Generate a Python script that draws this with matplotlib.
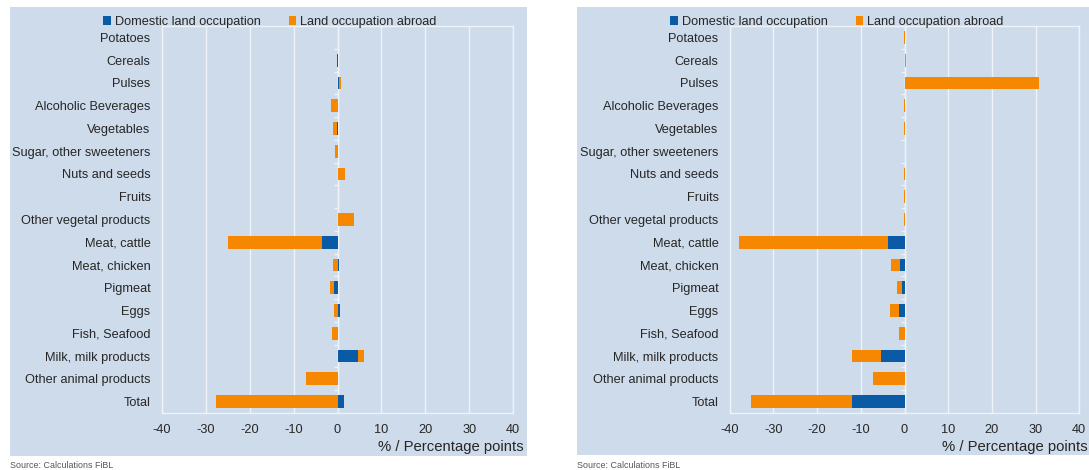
import numpy as np
import matplotlib
matplotlib.use("Agg")
import matplotlib.pyplot as plt
from matplotlib.patches import Rectangle, Patch
from matplotlib.markers import TICKLEFT

plt.rcParams['font.family'] = ['Liberation Sans', 'DejaVu Sans']

categories = ["Potatoes", "Cereals", "Pulses", "Alcoholic Beverages", "Vegetables",
              "Sugar, other sweeteners", "Nuts and seeds", "Fruits", "Other vegetal products",
              "Meat, cattle", "Meat, chicken", "Pigmeat", "Eggs", "Fish, Seafood",
              "Milk, milk products", "Other animal products", "Total"]

left_domestic = [0.0, -0.1, 0.35, 0.2, -0.1, 0.0, 0.1, 0.0, 0.1,
                 -3.5, 0.3, -0.7, 0.5, 0.0, 4.6, 0.0, 1.5]
left_abroad = [0.1, 0.1, 0.5, -1.5, -1.0, -0.6, 1.6, 0.2, 3.7,
               -21.4, -1.0, -1.0, -0.7, -1.2, 1.5, -7.1, -27.6]

right_domestic = [0.0, 0.0, 0.0, 0.0, 0.0, 0.0, 0.0, 0.0, 0.0,
                  -3.7, -1.0, -0.5, -1.2, 0.0, -5.3, 0.0, -12.0]
right_abroad = [-0.1, 0.4, 30.7, -0.1, -0.1, 0.0, -0.1, -0.1, -0.1,
                -34.1, -2.0, -1.3, -2.1, -1.2, -6.7, -7.2, -23.2]

xticks = [-40, -30, -20, -10, 0, 10, 20, 30, 40]
legend_labels = ["Domestic land occupation", "Land occupation abroad"]
xlabel = "% / Percentage points"
source = "Source: Calculations FiBL"

BLUE = "#0a5aa6"
ORANGE = "#f58800"
BG = "#cedbeb"
TXT = "#262626"
GRID = "#eef3f9"

W, H = 1089, 470
fig = plt.figure(figsize=(W / 100, H / 100), dpi=100)

def fx(px):
    return px / W

def fy(py):
    return 1 - py / H

panels = [
    dict(dom=left_domestic, abr=left_abroad, bg=(10, 7, 527, 456), ax=(161.7, 26, 513.3, 413),
         leg_x=270, xl_right=524, src_x=10),
    dict(dom=right_domestic, abr=right_abroad, bg=(577, 7, 1089, 455), ax=(729.7, 26, 1079.3, 413),
         leg_x=837, xl_right=1088, src_x=577),
]

for p in panels:
    x0, y0, x1, y1 = p["bg"]
    fig.patches.append(Rectangle((fx(x0), fy(y1)), fx(x1 - x0), (y1 - y0) / H,
                                 transform=fig.transFigure, facecolor=BG, edgecolor="none", zorder=-5))

for p in panels:
    ax0, ay0, ax1, ay1 = p["ax"]
    ax = fig.add_axes([fx(ax0), fy(ay1), fx(ax1 - ax0), (ay1 - ay0) / H])
    ax.set_facecolor(BG)
    y = np.arange(len(categories))
    dom = np.array(p["dom"], dtype=float)
    abr = np.array(p["abr"], dtype=float)
    same = np.sign(dom) == np.sign(abr)
    abr_left = np.where(same, dom, 0.0)
    ax.barh(y, dom, height=0.56, color=BLUE, zorder=3)
    ax.barh(y, abr, left=abr_left, height=0.56, color=ORANGE, zorder=3)
    ax.set_xlim(-40, 40)
    ax.set_ylim(len(categories) - 0.5, -0.5)
    ax.set_xticks(xticks)
    ax.set_xticklabels([str(v) for v in xticks])
    ax.set_yticks(y)
    ax.set_yticklabels(categories)
    ax.tick_params(axis="both", length=0, labelsize=9.2, colors=TXT)
    ax.tick_params(axis="y", pad=8)
    ax.tick_params(axis="x", pad=8)
    ax.grid(axis="x", color=GRID, linewidth=1.0, zorder=1)
    ax.set_axisbelow(True)
    for s in ax.spines.values():
        s.set_color(GRID)
        s.set_linewidth(1.0)
    ax.axvline(0, color=GRID, linewidth=1.0, zorder=2)
    bounds = np.arange(-0.5, len(categories), 1.0)
    ax.plot(np.zeros_like(bounds), bounds, linestyle="none", marker=TICKLEFT,
            markersize=3, markeredgewidth=1, color=GRID, zorder=2, clip_on=False)

    fig.text(fx(p["xl_right"]), fy(447), xlabel, ha="right", va="center",
             fontsize=10.7, color=TXT)
    fig.text(fx(p["src_x"]), fy(465), source, ha="left", va="center",
             fontsize=6.4, color="#555555")
    handles = [Patch(facecolor=BLUE, edgecolor="none"), Patch(facecolor=ORANGE, edgecolor="none")]
    fig.legend(handles, legend_labels, loc="center", bbox_to_anchor=(fx(p["leg_x"]), fy(22)),
               ncol=2, frameon=False, fontsize=9.2, handlelength=0.6, handleheight=0.6,
               handletextpad=0.3, columnspacing=2.2, borderpad=0, labelcolor=TXT)

fig.savefig("out.png", dpi=100, facecolor="white")
